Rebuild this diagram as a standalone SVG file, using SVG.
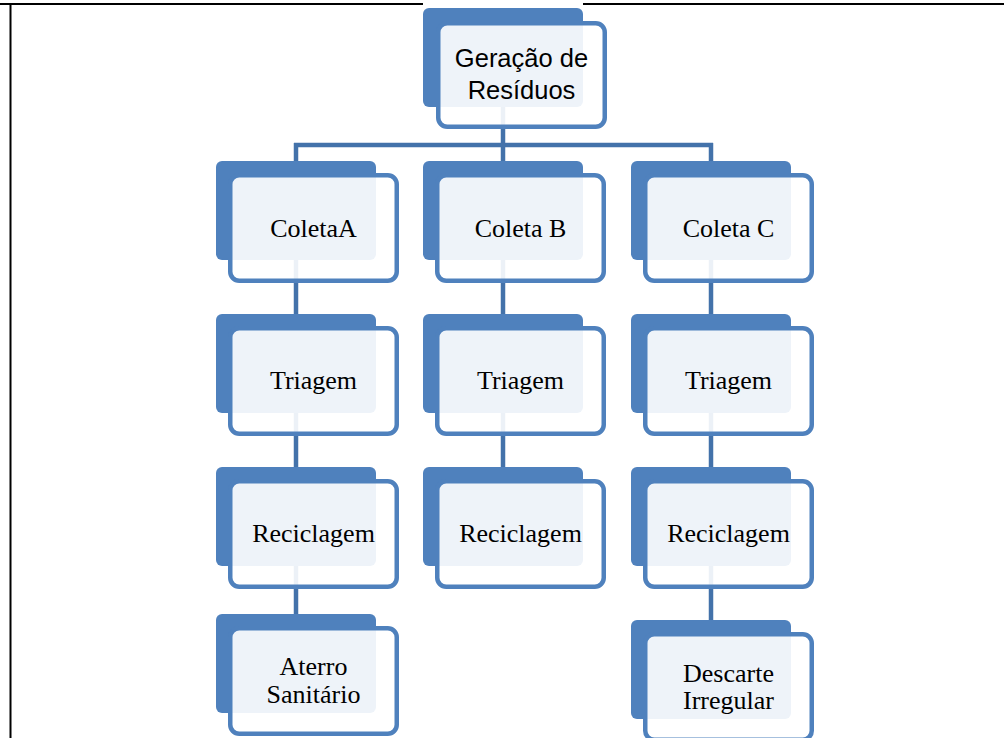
<svg xmlns="http://www.w3.org/2000/svg" width="1004" height="738" viewBox="0 0 1004 738">
<style>
.bg{fill:#ffffff}
.frame{stroke:#000000;stroke-width:2;fill:none}
.back{fill:#4F81BD}
.front{fill:#ffffff;fill-opacity:0.9;stroke:#4F81BD;stroke-width:4.5}
.conn{stroke:#4372AA;stroke-width:4.5;fill:none}
.ts{font-family:"Liberation Sans",Arial,sans-serif;font-size:25.5px;fill:#000;text-anchor:middle}
.tr{font-family:"Liberation Serif","Times New Roman",serif;font-size:26px;fill:#000;text-anchor:middle}
</style>
<rect class="bg" x="0" y="0" width="1004" height="738"/>
<g id="frame">
<line class="frame" x1="0" y1="4" x2="423" y2="4"/>
<line class="frame" x1="583" y1="4" x2="1004" y2="4"/>
<line class="frame" x1="10.5" y1="4" x2="10.5" y2="738"/>
</g>
<g id="connectors">
<line class="conn" x1="503" y1="107" x2="503" y2="145"/>
<line class="conn" x1="294" y1="145" x2="713" y2="145"/>
<line class="conn" x1="296" y1="143" x2="296" y2="161"/>
<line class="conn" x1="503" y1="143" x2="503" y2="161"/>
<line class="conn" x1="711" y1="143" x2="711" y2="161"/>
<line class="conn" x1="296" y1="260" x2="296" y2="314"/>
<line class="conn" x1="296" y1="413" x2="296" y2="467"/>
<line class="conn" x1="296" y1="566" x2="296" y2="614"/>
<line class="conn" x1="503" y1="260" x2="503" y2="314"/>
<line class="conn" x1="503" y1="413" x2="503" y2="467"/>
<line class="conn" x1="711" y1="260" x2="711" y2="314"/>
<line class="conn" x1="711" y1="413" x2="711" y2="467"/>
<line class="conn" x1="711" y1="566" x2="711" y2="620"/>
</g>
<g id="n-geracao" transform="translate(423,8)">
<rect class="back" x="0" y="0" width="160" height="99" rx="6"/>
<rect class="front" x="15.25" y="15.25" width="166.5" height="103.5" rx="9"/>
<text class="ts" x="98.5" y="59">Geração de</text>
<text class="ts" x="98.5" y="91">Resíduos</text>
</g>
<g id="n-coletaA" transform="translate(216,161)">
<rect class="back" x="0" y="0" width="160" height="99" rx="6"/>
<rect class="front" x="14.25" y="14.25" width="166.5" height="105.5" rx="9"/>
<text class="tr" x="97.5" y="76">ColetaA</text>
</g>
<g id="n-coletaB" transform="translate(423,161)">
<rect class="back" x="0" y="0" width="160" height="99" rx="6"/>
<rect class="front" x="14.25" y="14.25" width="166.5" height="105.5" rx="9"/>
<text class="tr" x="97.5" y="76">Coleta B</text>
</g>
<g id="n-coletaC" transform="translate(631,161)">
<rect class="back" x="0" y="0" width="160" height="99" rx="6"/>
<rect class="front" x="14.25" y="14.25" width="166.5" height="105.5" rx="9"/>
<text class="tr" x="97.5" y="76">Coleta C</text>
</g>
<g id="n-triagemA" transform="translate(216,314)">
<rect class="back" x="0" y="0" width="160" height="99" rx="6"/>
<rect class="front" x="14.25" y="14.25" width="166.5" height="105.5" rx="9"/>
<text class="tr" x="97.5" y="75">Triagem</text>
</g>
<g id="n-triagemB" transform="translate(423,314)">
<rect class="back" x="0" y="0" width="160" height="99" rx="6"/>
<rect class="front" x="14.25" y="14.25" width="166.5" height="105.5" rx="9"/>
<text class="tr" x="97.5" y="75">Triagem</text>
</g>
<g id="n-triagemC" transform="translate(631,314)">
<rect class="back" x="0" y="0" width="160" height="99" rx="6"/>
<rect class="front" x="14.25" y="14.25" width="166.5" height="105.5" rx="9"/>
<text class="tr" x="97.5" y="75">Triagem</text>
</g>
<g id="n-reciclagemA" transform="translate(216,467)">
<rect class="back" x="0" y="0" width="160" height="99" rx="6"/>
<rect class="front" x="14.25" y="14.25" width="166.5" height="105.5" rx="9"/>
<text class="tr" x="97.5" y="75">Reciclagem</text>
</g>
<g id="n-reciclagemB" transform="translate(423,467)">
<rect class="back" x="0" y="0" width="160" height="99" rx="6"/>
<rect class="front" x="14.25" y="14.25" width="166.5" height="105.5" rx="9"/>
<text class="tr" x="97.5" y="75">Reciclagem</text>
</g>
<g id="n-reciclagemC" transform="translate(631,467)">
<rect class="back" x="0" y="0" width="160" height="99" rx="6"/>
<rect class="front" x="14.25" y="14.25" width="166.5" height="105.5" rx="9"/>
<text class="tr" x="97.5" y="75">Reciclagem</text>
</g>
<g id="n-aterro" transform="translate(216,614)">
<rect class="back" x="0" y="0" width="160" height="99" rx="6"/>
<rect class="front" x="14.25" y="14.25" width="166.5" height="105.5" rx="9"/>
<text class="tr" x="97.5" y="61">Aterro</text>
<text class="tr" x="97.5" y="89">Sanitário</text>
</g>
<g id="n-descarte" transform="translate(631,620)">
<rect class="back" x="0" y="0" width="160" height="99" rx="6"/>
<rect class="front" x="14.25" y="14.25" width="166.5" height="105.5" rx="9"/>
<text class="tr" x="97.5" y="62">Descarte</text>
<text class="tr" x="97.5" y="89">Irregular</text>
</g>
</svg>
